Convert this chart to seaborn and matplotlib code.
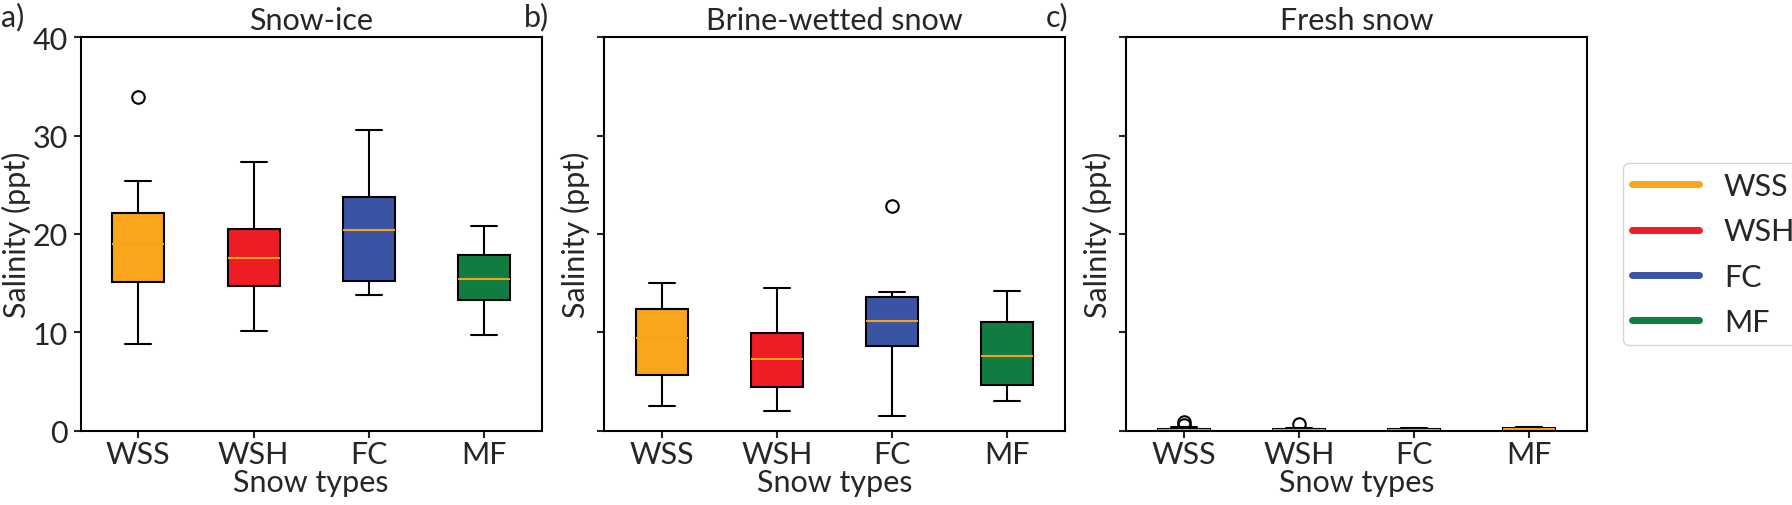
import numpy as np
import pandas as pd
import matplotlib
matplotlib.use("Agg")
import matplotlib.pyplot as plt
from matplotlib.lines import Line2D
import seaborn as sns

# ---------------------------------------------------------
# DATA
# per snow type: [lower whisker, Q1, median, Q3, upper whisker]
# ---------------------------------------------------------
snow_types = ["WSS", "WSH", "FC", "MF"]
type_colors = ["#F9A61C", "#EE1D25", "#3A53A4", "#107C41"]
median_color = "#F7A21B"

snow_ice_stats = [
    [8.8, 15.1, 19.0, 22.1, 25.4],
    [10.15, 14.75, 17.6, 20.5, 27.3],
    [13.8, 15.2, 20.4, 23.8, 30.6],
    [9.75, 13.3, 15.4, 17.9, 20.8],
]
snow_ice_fliers = [[33.9], [], [], []]

brine_stats = [
    [2.5, 5.7, 9.4, 12.4, 15.05],
    [2.05, 4.4, 7.3, 9.95, 14.5],
    [1.5, 8.6, 11.2, 13.6, 14.1],
    [3.0, 4.6, 7.6, 11.05, 14.25],
]
brine_fliers = [[], [], [22.8], []]

fresh_stats = [
    [0.0, 0.05, 0.1, 0.2, 0.35],
    [0.0, 0.03, 0.08, 0.15, 0.25],
    [0.02, 0.06, 0.1, 0.18, 0.3],
    [0.05, 0.1, 0.15, 0.25, 0.35],
]
fresh_fliers = [[0.85, 0.6], [0.68], [], []]

panels = [
    ("a)", "Snow-ice", snow_ice_stats, snow_ice_fliers),
    ("b)", "Brine-wetted snow", brine_stats, brine_fliers),
    ("c)", "Fresh snow", fresh_stats, fresh_fliers),
]


def to_long(stats, fliers):
    # observations whose quartiles / whiskers reproduce the read-off box stats
    rows = []
    for name, (lo, q1, med, q3, hi), out in zip(snow_types, stats, fliers):
        vals = [lo] + [q1] * 3 + [med] * 3 + [q3] * 3 + [hi] + list(out)
        rows += [(name, v) for v in vals]
    return pd.DataFrame(rows, columns=["type", "salinity"])


# ---------------------------------------------------------
# PLOT
# ---------------------------------------------------------
sns.set_theme(style="ticks")
plt.rcParams["font.family"] = ["Lato", "DejaVu Sans"]
plt.rcParams["axes.linewidth"] = 1.5
plt.rcParams["xtick.major.width"] = 1.5
plt.rcParams["ytick.major.width"] = 1.5
plt.rcParams["xtick.major.size"] = 5
plt.rcParams["ytick.major.size"] = 5

W, H = 1792, 506
fig = plt.figure(figsize=(W / 100, H / 100), dpi=100)
lefts = [80.7, 604, 1126]
ax_w, bottom, top = 461, 431.7, 38.3

fs = 22
axes = []
for (tag, title, stats, fliers), left in zip(panels, lefts):
    ax = fig.add_axes([left / W, 1 - bottom / H, ax_w / W, (bottom - top) / H])
    df = to_long(stats, fliers)
    sns.boxplot(
        data=df, x="type", y="salinity", hue="type", order=snow_types,
        hue_order=snow_types, palette=type_colors, saturation=1, width=0.45,
        linecolor="black", linewidth=1.5, legend=False, ax=ax,
        medianprops=dict(color=median_color, linewidth=1.5),
        flierprops=dict(marker="o", markerfacecolor="none",
                        markeredgecolor="black", markersize=9, markeredgewidth=1.5),
    )
    ax.set_ylim(0, 40)
    ax.set_yticks([0, 10, 20, 30, 40])
    ax.set_xlim(-0.5, 3.5)
    ax.set_title(title, fontsize=fs, pad=6)
    ax.set_xlabel("Snow types", fontsize=fs, labelpad=0)
    ax.set_ylabel("Salinity (ppt)", fontsize=fs, labelpad=1)
    ax.tick_params(labelsize=fs)
    ax.tick_params(axis="y", pad=4)
    ax.tick_params(axis="x", pad=2)
    for s in ax.spines.values():
        s.set_visible(True)
        s.set_color("black")
    if axes:
        ax.set_yticklabels([])
    fig.text((left - 80) / W, 1 - 17 / H, tag, fontsize=fs, ha="left", va="center")
    axes.append(ax)

handles = [Line2D([0], [0], color=c, lw=5) for c in type_colors]
leg = fig.legend(
    handles, snow_types, loc="center left", bbox_to_anchor=(1623 / W, 1 - 255 / H),
    fontsize=fs, frameon=True, handlelength=2.2, handletextpad=0.8,
    labelspacing=0.57, borderpad=0.3, borderaxespad=0, fancybox=True,
)
leg.get_frame().set_edgecolor("#cccccc")

fig.savefig("out.png", dpi=100)
